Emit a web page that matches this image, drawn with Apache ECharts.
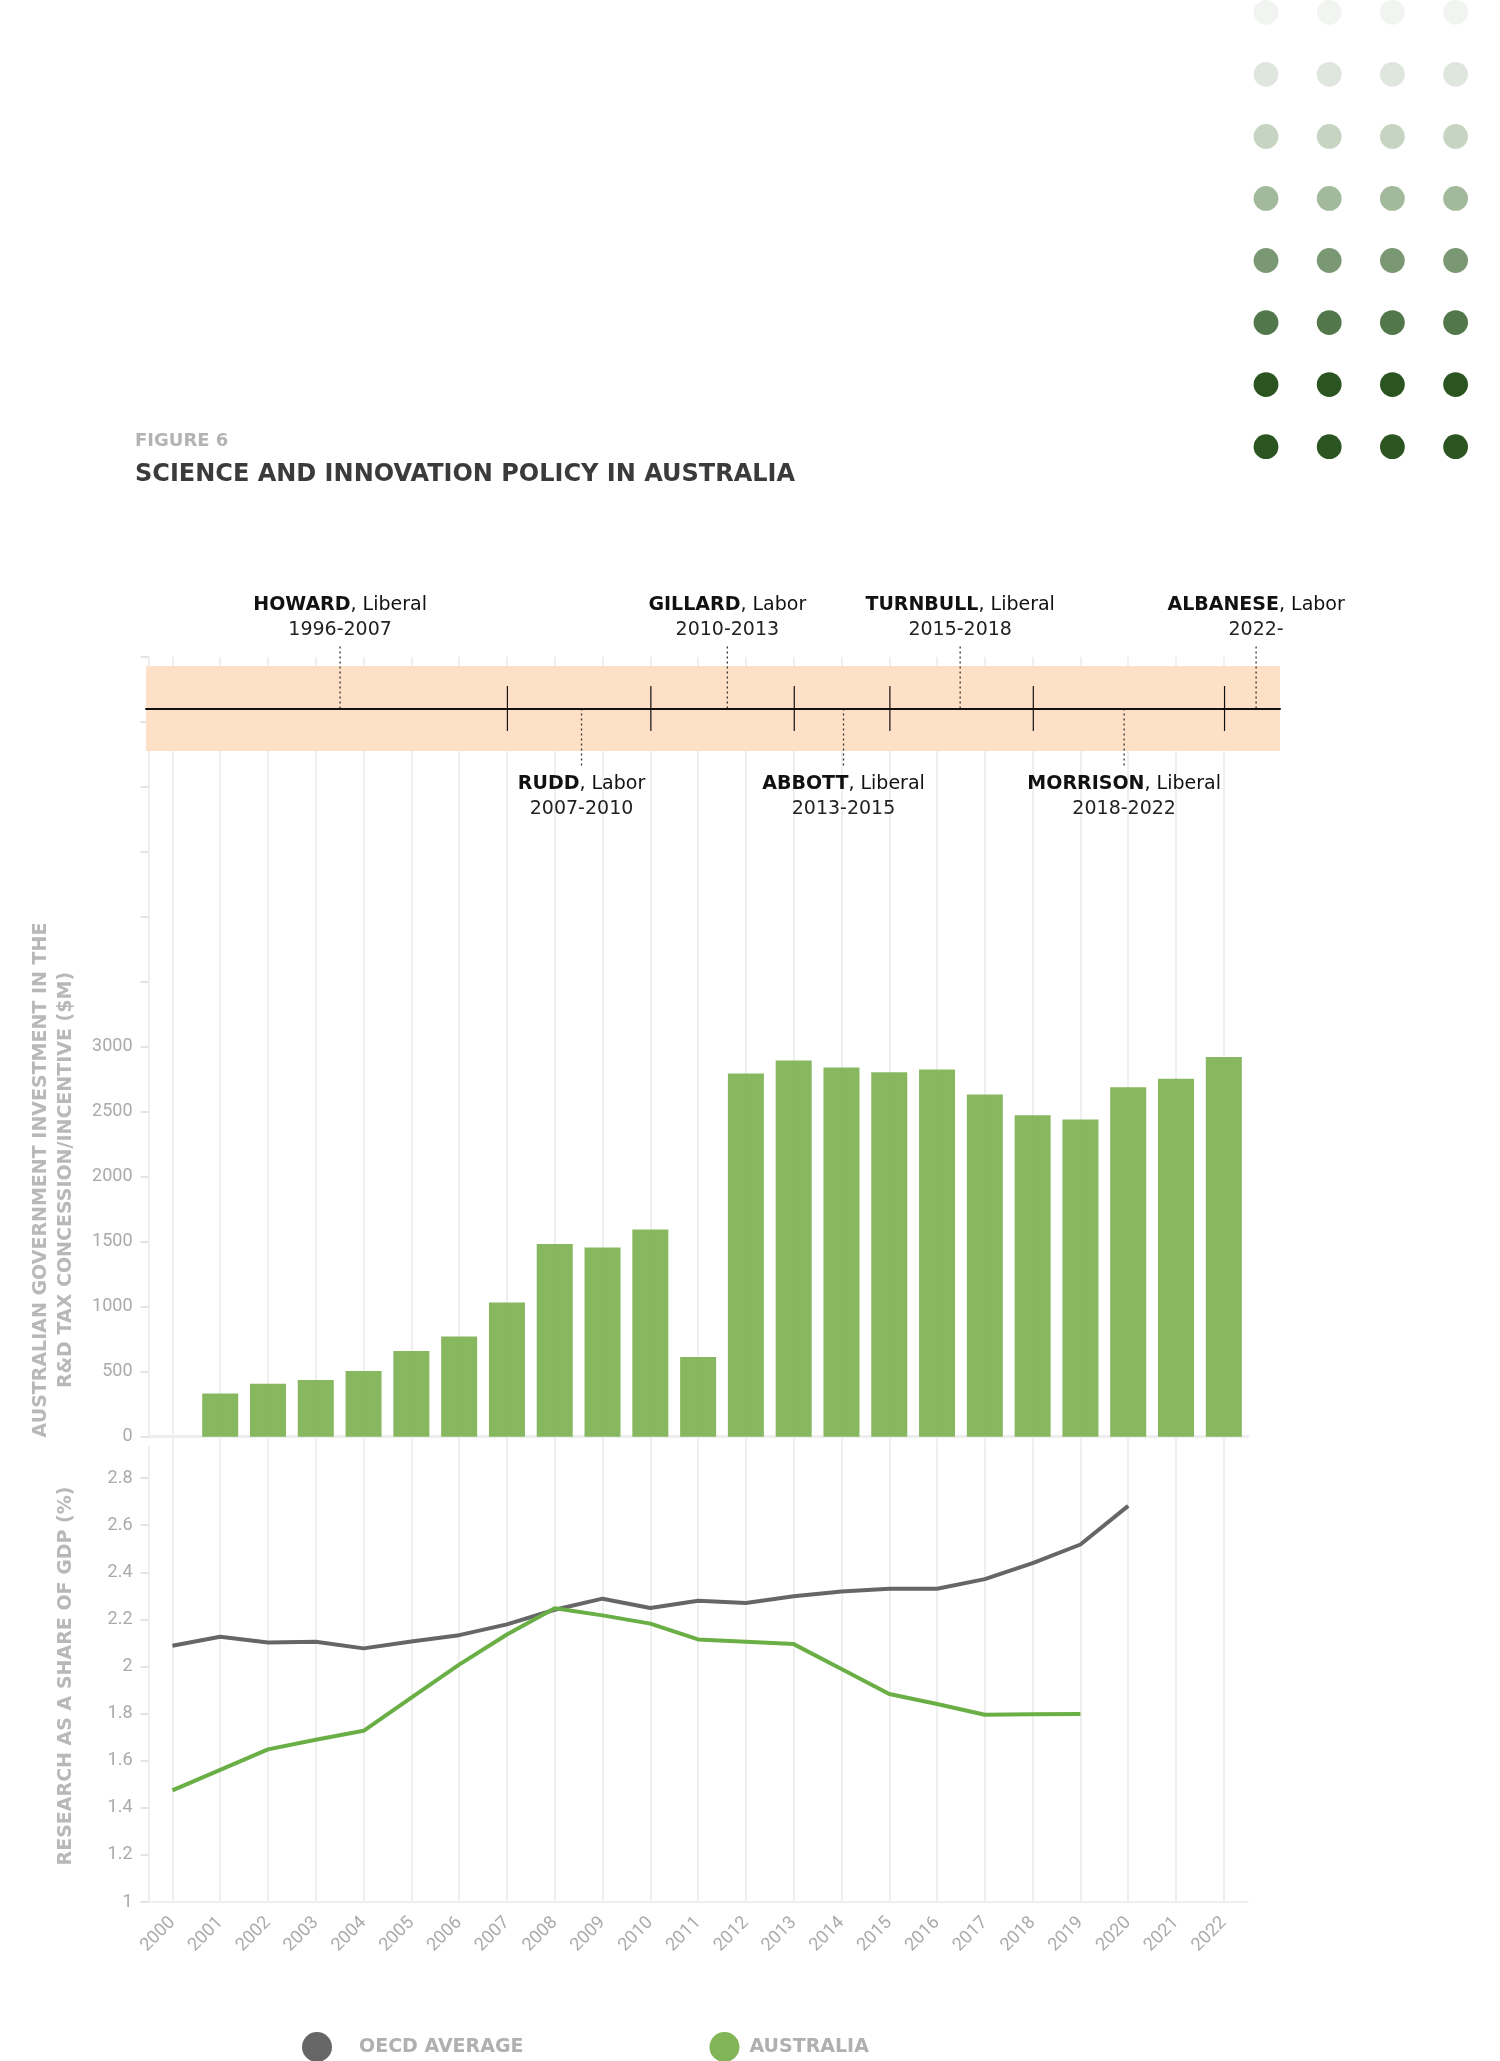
<!DOCTYPE html>
<html><head><meta charset="utf-8">
<script src="https://cdn.jsdelivr.net/npm/echarts@6/dist/echarts.min.js"></script>
<style>html,body{margin:0;padding:0;background:#fff}#c{width:1500px;height:2061px}</style>
</head><body><div id="c"></div><script>
// ---- data ----
const years = ['2000','2001','2002','2003','2004','2005','2006','2007','2008','2009','2010','2011','2012','2013','2014','2015','2016','2017','2018','2019','2020','2021','2022'];
const rdTaxInvestment = [null,333,408,436,505,659,772,1033,1482,1456,1595,613,2795,2895,2841,2805,2826,2633,2474,2441,2690,2754,2921];
const oecdAverage = [2.088,2.126,2.102,2.105,2.077,2.106,2.133,2.179,2.241,2.288,2.248,2.279,2.270,2.298,2.318,2.330,2.330,2.371,2.439,2.518,2.682,null,null];
const australia = [1.474,1.561,1.648,1.689,1.727,1.868,2.008,2.136,2.247,2.217,2.182,2.115,2.105,2.095,1.989,1.883,1.841,1.795,1.797,1.798,null,null,null];
const investTickLabels = [0,500,1000,1500,2000,2500,3000];
const gdpTickLabels = [1,1.2,1.4,1.6,1.8,2,2.2,2.4,2.6,2.8];
const termNames = ['HOWARD','RUDD','GILLARD','ABBOTT','TURNBULL','MORRISON','ALBANESE'];
const termParties = ['Liberal','Labor','Labor','Liberal','Liberal','Liberal','Labor'];
const termYears = ['1996-2007','2007-2010','2010-2013','2013-2015','2015-2018','2018-2022','2022-'];
const termMarkerYear = [2003.5,2008.55,2011.6,2014.03,2016.47,2019.9,2022.66];
const termChangeYears = [2007,2010,2013,2015,2018,2022];

// ---- styles ----
const HEAD = 'DejaVu Sans';
const NUM = 'Roboto';
const grey = '#aaaaaa';
const gridLine = {color:'#efefef', width:2};

const chart = echarts.init(document.getElementById('c'), null, {width:1500, height:2061});

const dotColors = ['#f2f4f1','#dfe6dd','#c6d4c2','#a2b99c','#7b9874','#52774a','#2b5520','#2b5520'];
const graphics = [];
for (let r = 0; r < dotColors.length; r++) {
  for (let c = 0; c < 4; c++) {
    graphics.push({type:'circle', shape:{cx:1266 + c*63.2, cy:12.3 + r*62.05, r:12.4}, style:{fill:dotColors[r]}, silent:true});
  }
}
graphics.push({type:'text', x:135, y:441, style:{text:'FIGURE 6', fill:'#b3b3b3', font:'bold 18px "' + HEAD + '"', verticalAlign:'middle'}});
graphics.push({type:'text', x:135, y:475, style:{text:'SCIENCE AND INNOVATION POLICY IN AUSTRALIA', fill:'#3b3b3b', font:'bold 24px "' + HEAD + '"', verticalAlign:'middle'}});
graphics.push({type:'text', x:41, y:1180, rotation:Math.PI/2, style:{text:'AUSTRALIAN GOVERNMENT INVESTMENT IN THE', fill:'#b8b8b8', font:'bold 19px "' + HEAD + '"', align:'center', verticalAlign:'middle'}});
graphics.push({type:'text', x:66, y:1180, rotation:Math.PI/2, style:{text:'R&D TAX CONCESSION/INCENTIVE ($M)', fill:'#b8b8b8', font:'bold 19px "' + HEAD + '"', align:'center', verticalAlign:'middle'}});
graphics.push({type:'text', x:66, y:1676, rotation:Math.PI/2, style:{text:'RESEARCH AS A SHARE OF GDP (%)', fill:'#b8b8b8', font:'bold 19px "' + HEAD + '"', align:'center', verticalAlign:'middle'}});

const inList = (list, v) => list.some(t => Math.abs(t - v) < 1e-6);

const option = {
  animation: false,
  backgroundColor: '#ffffff',
  graphic: graphics,
  legend: {
    left: 297, top: 2027, icon: 'circle', itemWidth: 30, itemHeight: 30, itemGap: 186,
    data: [{name:'OECD AVERAGE', textStyle:{padding:[0,0,0,22]}}, {name:'AUSTRALIA', textStyle:{padding:[0,0,0,5]}}],
    textStyle: {color:'#b0b0b0', fontSize:19, fontWeight:'bold', fontFamily:HEAD}
  },
  grid: [
    {left:148.5, width:1099.2, top:657, height:779.7, outerBoundsMode:'none', containLabel:false},
    {left:148.5, width:1099.2, top:1447, height:455, outerBoundsMode:'none', containLabel:false},
    {left:146, width:1134, top:666, height:85, outerBoundsMode:'none', containLabel:false}
  ],
  xAxis: [
    {type:'category', gridIndex:0, data:years, boundaryGap:true,
     axisLine:{show:true, lineStyle:{color:'#eeeeee', width:3}},
     axisTick:{show:true, alignWithLabel:true, length:10, lineStyle:gridLine},
     axisLabel:{show:false},
     splitLine:{show:true, alignWithLabel:true, lineStyle:gridLine}},
    {type:'category', gridIndex:1, data:years, boundaryGap:true,
     axisLine:{show:true, lineStyle:{color:'#eeeeee', width:2}},
     axisTick:{show:false},
     axisLabel:{show:true, rotate:45, color:grey, fontSize:18, fontFamily:NUM, margin:18, interval:0},
     splitLine:{show:true, alignWithLabel:true, lineStyle:gridLine}},
    {type:'value', gridIndex:2, min:1999.44, max:2023.16, z:10,
     axisLine:{show:true, onZero:true, lineStyle:{color:'#111111', width:2}},
     axisTick:{show:false}, axisLabel:{show:false}, splitLine:{show:false}}
  ],
  yAxis: [
    {type:'value', gridIndex:0, min:0, max:6000, interval:500,
     axisLine:{show:true, lineStyle:{color:'#eeeeee', width:2}},
     axisTick:{show:true, length:8, lineStyle:{color:'#e4e4e4', width:2}},
     axisLabel:{show:true, color:grey, fontSize:18, fontFamily:NUM, margin:16,
       formatter: v => inList(investTickLabels, v) ? String(v) : ''},
     splitLine:{show:false}},
    {type:'value', gridIndex:1, min:1, max:2.932, interval:0.2,
     axisLine:{show:true, lineStyle:{color:'#eeeeee', width:2}},
     axisTick:{show:true, length:8, lineStyle:{color:'#e4e4e4', width:2}},
     axisLabel:{show:true, color:grey, fontSize:18, fontFamily:NUM, margin:16, showMaxLabel:false,
       formatter: v => inList(gdpTickLabels, v) ? String(Math.round(v*10)/10) : ''},
     splitLine:{show:false}},
    {type:'value', gridIndex:2, min:-1, max:1, show:false}
  ],
  series: [
    {type:'bar', name:'R&D TAX INVESTMENT', xAxisIndex:0, yAxisIndex:0, data:rdTaxInvestment, barWidth:36,
     itemStyle:{color:'#7fb455', opacity:0.94}},
    {type:'line', name:'OECD AVERAGE', xAxisIndex:1, yAxisIndex:1, data:oecdAverage, symbol:'none',
     lineStyle:{color:'#666666', width:4}, itemStyle:{color:'#666666'}},
    {type:'line', name:'AUSTRALIA', xAxisIndex:1, yAxisIndex:1, data:australia, symbol:'none',
     lineStyle:{color:'#6aaf45', width:4}, itemStyle:{color:'#82b557'}},
    {type:'custom', name:'band', xAxisIndex:2, yAxisIndex:2, data:[[2000,0]], silent:true, clip:false, z:1,
     renderItem:(params) => {
       const cs = params.coordSys;
       return {type:'rect', shape:{x:cs.x, y:cs.y, width:cs.width, height:cs.height}, style:{fill:'#fee0c6'}};
     }},
    {type:'custom', name:'changes', xAxisIndex:2, yAxisIndex:2, data:termChangeYears.map(v => [v, 0]), silent:true, clip:false, z:3,
     renderItem:(params, api) => {
       const a = api.coord([api.value(0), -0.53]);
       const b = api.coord([api.value(0), 0.53]);
       return {type:'line', shape:{x1:a[0], y1:a[1], x2:b[0], y2:b[1]}, style:{stroke:'#111111', lineWidth:1.2}};
     }},
    {type:'custom', name:'terms', xAxisIndex:2, yAxisIndex:2, data:termMarkerYear.map(v => [v, 0]), silent:true, clip:false, z:4,
     renderItem:(params, api) => {
       const i = params.dataIndex;
       const up = i % 2 === 0;
       const p0 = api.coord([api.value(0), 0]);
       const p1 = api.coord([api.value(0), up ? 1.47 : -1.38]);
       const y1 = up ? p1[1] - 40.5 : p1[1] + 16.7;
       const y2 = up ? p1[1] - 16 : p1[1] + 42.2;
       return {type:'group', children:[
         {type:'line', shape:{x1:p0[0], y1:p0[1], x2:p1[0], y2:p1[1]}, style:{stroke:'#333333', lineWidth:1.3, lineDash:[2,3]}},
         {type:'text', style:{x:p0[0], y:y1, text:'{b|' + termNames[i] + '}, ' + termParties[i],
           rich:{b:{fontWeight:'bold', fontSize:19, fontFamily:HEAD, fill:'#111111'}},
           fontSize:19, fontFamily:HEAD, fill:'#111111', align:'center', verticalAlign:'middle'}},
         {type:'text', style:{x:p0[0], y:y2, text:termYears[i], fontSize:19, fontFamily:HEAD, fill:'#222222', align:'center', verticalAlign:'middle'}}
       ]};
     }}
  ]
};
chart.setOption(option);
</script></body></html>
